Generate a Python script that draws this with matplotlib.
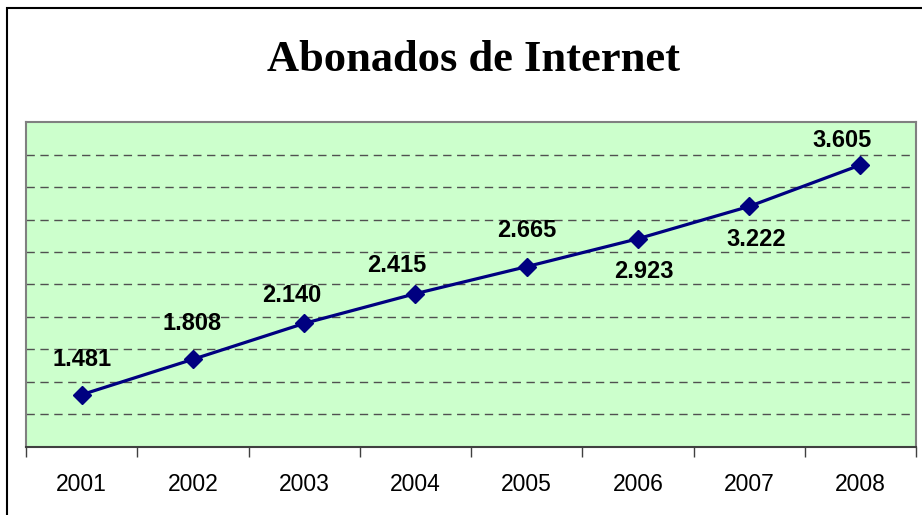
import matplotlib.pyplot as plt
from matplotlib.patches import Rectangle

# Data
years = ['2001', '2002', '2003', '2004', '2005', '2006', '2007', '2008']
subscribers = [1481, 1808, 2140, 2415, 2665, 2923, 3222, 3605]

# label offsets (pixels) relative to each point, as placed in the original
label_offsets = [(0, 35), (-1, 36), (-12, 28), (-19, 28),
                 (0, 36), (6, -33), (7, -33), (-18, 25)]

DPI = 100
W, H = 922, 515

fig = plt.figure(figsize=(W / DPI, H / DPI), dpi=DPI)
fig.patch.set_facecolor('white')

# outer chart border (only left/top visible, rest is cropped)
fig.patches.append(Rectangle((7 / W, -0.1), 1.2, 1 - 7.5 / H + 0.1,
                             transform=fig.transFigure, fill=False,
                             edgecolor='black', linewidth=1.5))

ax = fig.add_axes([26 / W, 1 - 446.7 / H, (916 - 26) / W, (446.7 - 122.3) / H])
ax.set_facecolor('#CCFFCC')

x = list(range(len(years)))
ax.plot(x, subscribers, color='#000080', linewidth=2.3, marker='D',
        markersize=9.5, markerfacecolor='#000080', markeredgecolor='#000080',
        zorder=3)

for xi, val, (dx, dy) in zip(x, subscribers, label_offsets):
    txt = f'{val:,}'.replace(',', '.')
    ax.annotate(txt, (xi, val), xytext=(dx * 0.72, dy * 0.72),
                textcoords='offset points', ha='center', va='center',
                fontsize=17, fontweight='bold', family='Liberation Sans',
                zorder=4)

ax.set_xlim(-0.5, len(years) - 0.5)
ax.set_ylim(1000, 4000)

# gridlines
ax.set_yticks(range(1300, 4000, 300))
ax.yaxis.grid(True, linestyle=(0, (6, 4)), color='#505050', linewidth=1)
ax.tick_params(axis='y', left=False, labelleft=False)

# category boundaries as ticks, labels at centers
ax.set_xticks([i - 0.5 for i in range(len(years) + 1)])
ax.set_xticklabels([])
ax.tick_params(axis='x', which='major', direction='out', length=7,
               width=1, color='#404040')
ax.set_xticks(x, minor=True)
ax.set_xticklabels(years, minor=True, fontsize=16.5, family='Liberation Sans')
ax.tick_params(axis='x', which='minor', length=0, pad=19)

for side in ['left', 'top', 'right']:
    ax.spines[side].set_color('#808080')
    ax.spines[side].set_linewidth(1.5)
ax.spines['bottom'].set_color('#404040')
ax.spines['bottom'].set_linewidth(1.5)

fig.text(473 / W, 1 - 60 / H, 'Abonados de Internet', ha='center',
         va='center', fontsize=32, fontweight='bold',
         family='Liberation Serif')

fig.savefig('out.png', dpi=DPI)
